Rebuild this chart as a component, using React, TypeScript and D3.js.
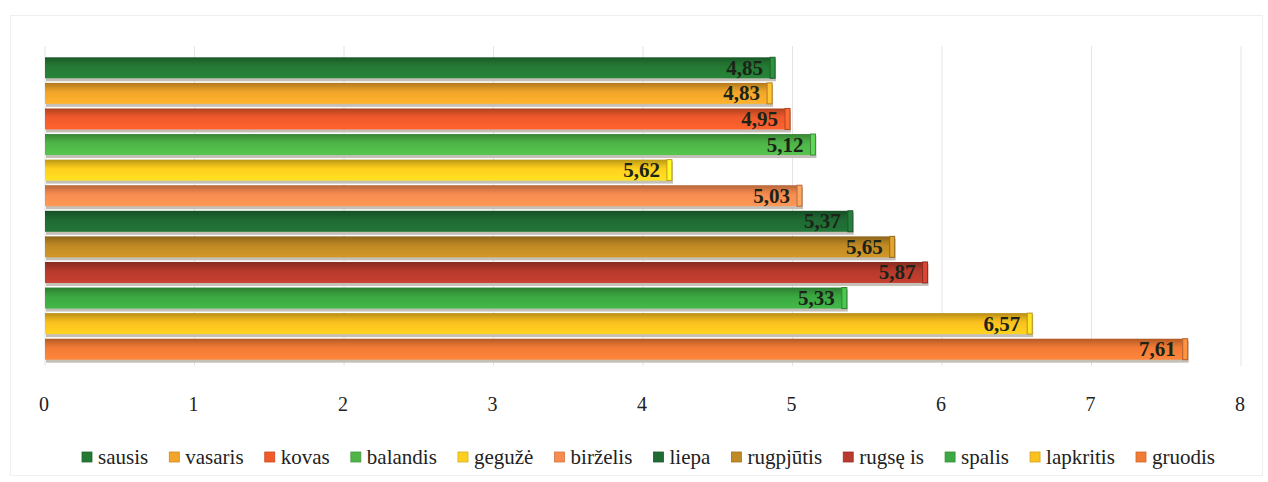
import { useMemo } from "react";
import * as d3 from "d3";

const width = 1268;
const height = 482;

const months = [
  "sausis",
  "vasaris",
  "kovas",
  "balandis",
  "gegužė",
  "birželis",
  "liepa",
  "rugpjūtis",
  "rugsę is",
  "spalis",
  "lapkritis",
  "gruodis",
];
// bar lengths as drawn in the picture
const barValues = [4.85, 4.83, 4.95, 5.12, 4.16, 5.03, 5.37, 5.65, 5.87, 5.33, 6.57, 7.61];
// value labels as printed on the bars
const valueLabels = ["4,85", "4,83", "4,95", "5,12", "5,62", "5,03", "5,37", "5,65", "5,87", "5,33", "6,57", "7,61"];
const colors = [
  "#247a34",
  "#f2a52a",
  "#f15a2b",
  "#4fb548",
  "#ffd01e",
  "#f88c50",
  "#1f6b33",
  "#c08a24",
  "#b73a2c",
  "#3ca942",
  "#fbc11e",
  "#f47b35",
];
const ticks = [0, 1, 2, 3, 4, 5, 6, 7, 8];

const serif = '"Liberation Serif", "Times New Roman", Times, serif';
const legendFontSize = 21;

const measure = (() => {
  const ctx = document.createElement("canvas").getContext("2d");
  return (s: string) => {
    if (!ctx) return s.length * 9;
    ctx.font = `${legendFontSize}px ${serif}`;
    return ctx.measureText(s).width;
  };
})();

const x = d3.scaleLinear().domain([0, 8]).range([45, 1241]);
const y = d3
  .scaleBand<string>()
  .domain(months)
  .range([55, 362])
  .paddingInner(0.18)
  .paddingOuter(0.09);

const App = () => {
  const legend = useMemo(() => {
    const marker = 11;
    const gapText = 5;
    const span = [82, 1215];
    const items = months.map((m, i) => ({ m, i, w: measure(m) }));
    const used = d3.sum(items, (d) => marker + gapText + d.w);
    const gapItem = Math.max(6, (span[1] - span[0] - used) / (items.length - 1));
    const total = used + gapItem * (items.length - 1);
    let cx = (span[0] + span[1]) / 2 - total / 2;
    return items.map((d) => {
      const pos = cx;
      cx += marker + gapText + d.w + gapItem;
      return { ...d, x: pos };
    });
  }, []);

  const bh = y.bandwidth();
  const cap = 5;

  return (
    <svg
      width={width}
      height={height}
      style={{ position: "absolute", left: 0, top: 0, background: "#fff" }}
    >
      <defs>
        {colors.map((c, i) => {
          const base = d3.color(c)!;
          return (
            <linearGradient key={i} id={`g${i}`} x1="0" y1="0" x2="0" y2="1">
              <stop offset="0%" stopColor={base.darker(0.9).formatHex()} />
              <stop offset="28%" stopColor={base.darker(0.25).formatHex()} />
              <stop offset="45%" stopColor={base.formatHex()} />
              <stop offset="100%" stopColor={base.brighter(0.25).formatHex()} />
            </linearGradient>
          );
        })}
      </defs>

      {/* faint frame */}
      <rect x={10.5} y={15.5} width={1252} height={460} fill="none" stroke="#efefef" />

      {/* gridlines */}
      {ticks.map((t) => (
        <line
          key={t}
          x1={x(t)}
          x2={x(t)}
          y1={46}
          y2={366}
          stroke="#e4e4e4"
          strokeWidth={1}
        />
      ))}

      {/* bars */}
      {months.map((m, i) => {
        const y0 = y(m)!;
        const x1 = x(barValues[i]);
        const base = d3.color(colors[i])!;
        return (
          <g key={m}>
            <rect
              x={x(0) + 1}
              y={y0 + 2}
              width={x1 + cap - x(0)}
              height={bh + 1}
              fill="#c4c0b8"
            />
            <rect
              x={x(0)}
              y={y0}
              width={x1 - x(0)}
              height={bh}
              fill={`url(#g${i})`}
            />
            <rect
              x={x1}
              y={y0}
              width={cap}
              height={bh}
              fill={base.brighter(0.5).formatHex()}
              stroke={base.darker(0.8).formatHex()}
              strokeWidth={1}
            />
            <text
              x={x1 - 7}
              y={y0 + bh / 2 + 7}
              textAnchor="end"
              style={{ fontFamily: serif, fontWeight: "bold", fontSize: 21 }}
              fill="#1c2318"
            >
              {valueLabels[i]}
            </text>
          </g>
        );
      })}

      {/* x axis tick labels */}
      {ticks.map((t) => (
        <text
          key={t}
          x={x(t) - 1}
          y={411}
          textAnchor="middle"
          style={{ fontFamily: serif, fontSize: 20 }}
          fill="#222"
        >
          {t}
        </text>
      ))}

      {/* legend */}
      {legend.map((d) => {
        const base = d3.color(colors[d.i])!;
        return (
          <g key={d.m} transform={`translate(${d.x},452)`}>
            <rect
              x={0}
              y={0}
              width={10}
              height={10}
              fill={base.formatHex()}
              stroke={base.darker(0.5).formatHex()}
              strokeWidth={0.8}
            />
            <text
              x={16}
              y={12}
              style={{ fontFamily: serif, fontSize: legendFontSize }}
              fill="#222"
            >
              {d.m}
            </text>
          </g>
        );
      })}
    </svg>
  );
};

export default App;
